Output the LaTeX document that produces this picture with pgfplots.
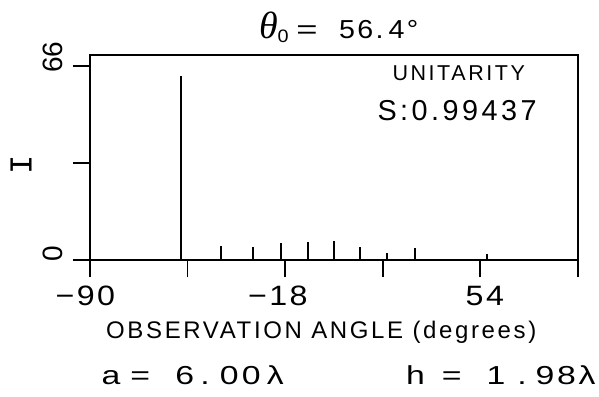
\documentclass[border=0pt]{standalone}
\usepackage{pgfplots}
\pgfplotsset{compat=1.18}
\usepackage{fontspec}
\setmainfont{Liberation Sans}[LetterSpace=12]
\newfontfamily\serifit{Liberation Serif}[ItalicFont={* Italic}]
\newfontfamily\monofnt{Liberation Mono}
\newfontfamily\plainfnt{Liberation Sans}
\newcommand\fs[1]{\fontsize{#1}{#1}\selectfont}
\newcommand\tl{\fs{28}\addfontfeature{LetterSpace=7.5}}
\newcommand\ttl{\fs{26}\addfontfeature{LetterSpace=8}}
\begin{document}
\begin{tikzpicture}
\useasboundingbox (-90pt,-136pt) rectangle (509pt,260pt);
\begin{axis}[
  at={(0pt,0pt)}, anchor=south west,
  scale only axis, width=487.7pt, height=205pt,
  xmin=-90, xmax=90, ymin=0, ymax=69.6,
  axis line style={line width=1.9pt},
  xtick={-90,-54,-18,18,54,90},
  xticklabels={,,,,,},
  ytick={0,33,66},
  yticklabels={,,},
  tick align=outside,
  xtick pos=bottom, ytick pos=left,
  major tick length=17pt,
  every tick/.style={line width=1.8pt, black},
  clip=false,
]
\addplot[ycomb, line width=1.4pt, black, mark=none] coordinates {(-56.4,62.3)};
\addplot[ycomb, line width=2pt, black, mark=none] coordinates {
  (-41.8,4.6) (-30.0,4.3) (-19.5,5.9) (-9.6,6.1) (0,6.3)
  (9.6,4.5) (19.5,2.4) (30.0,4.1) (41.8,0.3) (56.4,1.9)};
\end{axis}
% title
\node[anchor=base west, inner sep=0pt] at (169pt,221.5pt) {\fs{38}\serifit\itshape θ};
\node[anchor=base west, inner sep=0pt, xscale=1.1] at (187.5pt,217pt) {\fs{18}0};
\node[anchor=base west, inner sep=0pt, xscale=1.4] at (206pt,221.5pt) {\ttl =};
\node[anchor=base west, inner sep=0pt, xscale=1.1] at (249pt,221.5pt) {\ttl 56\kern2.2pt.\kern4.5pt4°};
% inside texts
\node[anchor=base west, inner sep=0pt] at (302.3pt,179pt) {\fs{21.5}UNITARITY};
\node[anchor=base west, inner sep=0pt] at (287.4pt,139.4pt) {\fs{28.8}S:0.99437};
% x tick labels
\node[anchor=base west, inner sep=0pt, xscale=1.15] at (-34.5pt,-45pt) {\tl −90};
\node[anchor=base west, inner sep=0pt, xscale=1.15] at (158pt,-45pt) {\tl −18};
\node[anchor=base west, inner sep=0pt, xscale=1.15] at (375.5pt,-45pt) {\tl 54};
% y tick labels and label
\node[rotate=90, inner sep=0pt] at (-37pt,203pt) {\fs{28}\plainfnt 66};
\node[rotate=90, inner sep=0pt] at (-37pt,6pt) {\fs{28}\plainfnt 0};
\node[rotate=90, inner sep=0pt] at (-69pt,95pt) {\fs{32}\monofnt I};
% axis label
\node[anchor=base west, inner sep=0pt] at (16pt,-78.3pt) {\fs{24}\addfontfeature{LetterSpace=11}OBSERVATION ANGLE (degrees)};
% parameters
\begin{scope}[every node/.style={anchor=base west, inner sep=0pt, xscale=1.3, font=\plainfnt\fs{26}}]
\node at (11.3pt,-124.5pt) {a};
\node at (40pt,-124.5pt) {=};
\node at (85pt,-124.5pt) {6};
\node at (110pt,-124.5pt) {.};
\node at (129.5pt,-124.5pt) {0};
\node at (151.6pt,-124.5pt) {0};
\node at (176.7pt,-124.5pt) {λ};
\node at (315.9pt,-124.5pt) {h};
\node at (351.6pt,-124.5pt) {=};
\node at (396.3pt,-124.5pt) {1};
\node at (427pt,-124.5pt) {.};
\node at (445.3pt,-124.5pt) {9};
\node at (466.9pt,-124.5pt) {8};
\node at (488.3pt,-124.5pt) {λ};
\end{scope}
\end{tikzpicture}
\end{document}
